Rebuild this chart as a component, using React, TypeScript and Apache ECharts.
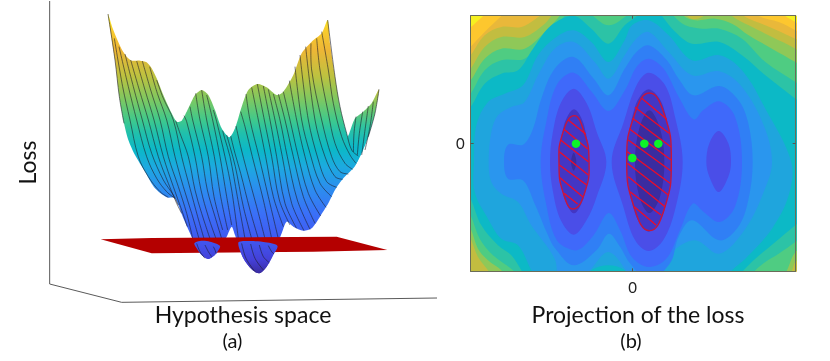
import React, { useEffect, useRef } from "react";
import * as echarts from "echarts";

type P = number[];

const FONT = "Lato, Carlito, 'Open Sans', sans-serif";
const tickLabels = ["0"];
const titles = { loss: "Loss", hypothesis: "Hypothesis space", projection: "Projection of the loss", a: "(a)", b: "(b)" };

const boxLines: P[][] = [[[149, 3], [149, 852], [365, 907], [1311, 894]]];
const surfaceColorStops: [number, string][] = [
  [42, "#f9f020"], [90, "#f8cc2c"], [150, "#eeb636"], [230, "#bcc240"], [300, "#7cc862"], [360, "#3fc98c"], [400, "#20c0ac"],
  [450, "#0cb8c8"], [500, "#1caae0"], [560, "#2a90ee"], [640, "#3a70f8"], [720, "#4058f0"], [780, "#4440d8"], [820, "#3a2ca0"],
];
const flapStops: [number, string][] = [[268, "#c8c03c"], [320, "#78c866"], [380, "#30c4a0"], [440, "#0cb8c8"], [500, "#14b0d8"]];
const flapOutline: P[] = [[1040, 420], [1048, 400], [1065, 355], [1090, 335], [1115, 310], [1137, 268], [1125, 340], [1105, 410], [1085, 460], [1065, 495], [1045, 480]];
const flapLines: P[][] = [
  [[1068, 350], [1062, 400], [1060, 460]], [[1088, 335], [1078, 400], [1072, 465]],
  [[1105, 318], [1095, 390], [1085, 465]], [[1120, 305], [1110, 380], [1095, 450]], [[1137, 268], [1125, 340], [1105, 410]],
];
const surfaceOutline: P[] = [
  [324, 42], [338, 85], [350, 115], [365, 148], [380, 170], [395, 182], [420, 182], [440, 187], [455, 205], [470, 235], [490, 285], [515, 340], [530, 365],
  [545, 362], [565, 325], [585, 285], [605, 270], [625, 285], [645, 330], [665, 385], [688, 412], [705, 385], [725, 320], [745, 270], [772, 252], [800, 262],
  [830, 285], [850, 275], [880, 225], [905, 160], [935, 125], [965, 100], [983, 60], [990, 130], [1005, 230], [1020, 320], [1040, 400], [1055, 450], [1075, 468],
  [1072, 485], [1060, 505], [1030, 535], [1005, 570], [985, 610], [960, 650], [935, 685], [910, 692], [880, 680], [860, 665], [845, 700], [825, 750], [800, 800],
  [778, 820], [755, 808], [730, 775], [705, 705], [695, 680], [680, 710], [650, 760], [625, 777], [600, 760], [577, 715], [550, 655], [525, 595], [500, 592],
  [465, 565], [435, 515], [405, 465], [385, 420], [372, 370], [358, 290], [345, 180],
];
const meshLines: P[][] = [
  [[324, 42], [345, 180], [358, 290], [372, 370]],
  [[343, 115], [368, 260], [390, 360], [415, 470], [445, 530], [480, 575], [505, 592]],
  [[357, 140], [385, 260], [410, 360], [440, 470], [470, 535], [500, 575], [525, 595]],
  [[375, 162], [400, 260], [427, 360], [455, 460], [490, 540], [520, 585], [535, 615]],
  [[392, 180], [418, 270], [445, 360], [475, 470], [505, 550], [530, 610], [545, 640]],
  [[410, 183], [435, 270], [462, 360], [490, 470], [520, 560], [545, 630], [562, 680]],
  [[427, 183], [452, 270], [480, 360], [505, 470], [535, 560], [560, 640], [578, 715]],
  [[449, 200], [472, 280], [500, 360], [525, 470], [550, 560], [575, 640], [597, 716]],
  [[470, 240], [490, 295], [520, 360], [545, 470], [570, 565], [593, 650], [612, 716]],
  [[527, 362], [540, 400], [565, 470], [585, 570], [605, 640], [630, 716]],
  [[552, 347], [560, 365], [585, 470], [603, 570], [625, 650], [648, 716]],
  [[570, 320], [578, 360], [605, 470], [622, 570], [645, 650], [665, 716]],
  [[587, 280], [600, 360], [625, 470], [642, 590], [668, 690]],
  [[605, 270], [620, 360], [643, 470], [662, 590], [683, 690]],
  [[620, 285], [638, 360], [660, 470], [680, 590], [695, 675]],
  [[640, 330], [650, 365], [675, 470], [695, 570], [715, 716]],
  [[668, 392], [674, 415], [690, 470], [712, 590], [735, 716]],
  [[680, 405], [690, 440], [706, 500], [730, 620], [755, 716]],
  [[692, 408], [705, 460], [722, 520], [750, 630], [775, 716]],
  [[708, 378], [722, 440], [740, 510], [770, 620], [795, 716]],
  [[722, 335], [735, 380], [757, 470], [790, 600], [815, 716]],
  [[738, 282], [750, 360], [777, 470], [805, 590], [835, 716]],
  [[755, 262], [775, 360], [797, 470], [820, 590], [850, 680]],
  [[772, 252], [793, 360], [815, 470], [838, 600], [870, 675]],
  [[790, 258], [810, 360], [830, 470], [855, 610], [890, 685]],
  [[805, 268], [825, 360], [847, 470], [875, 610], [912, 692]],
  [[820, 282], [840, 360], [862, 470], [892, 600], [930, 688]],
  [[835, 282], [855, 360], [880, 470], [910, 590], [945, 670]],
  [[850, 275], [870, 360], [895, 470], [925, 580], [962, 648]],
  [[868, 242], [890, 360], [915, 470], [945, 570], [978, 622]],
  [[885, 200], [905, 360], [930, 460], [960, 550], [995, 590]],
  [[900, 165], [925, 360], [955, 480], [980, 545], [1010, 562]],
  [[917, 140], [945, 360], [975, 470], [1005, 530], [1028, 538]],
  [[933, 130], [935, 210], [965, 360], [995, 470], [1020, 515], [1045, 522]],
  [[950, 115], [960, 210], [985, 340], [1005, 430], [1035, 490], [1058, 508]],
  [[965, 95], [985, 210], [1000, 310], [1025, 410], [1050, 465], [1068, 490]],
  [[983, 60], [1005, 230], [1020, 320], [1040, 400], [1055, 450], [1075, 468]],
];
const planeOutline: P[] = [[302, 718], [455, 714], [1010, 710], [1162, 750], [940, 755], [455, 760]];
const basinOutlines: P[][] = [
  [[583, 730], [600, 723], [630, 725], [660, 738], [650, 758], [625, 777], [605, 765], [590, 745]],
  [[715, 728], [740, 723], [790, 726], [832, 737], [820, 765], [800, 800], [778, 820], [755, 808], [730, 775]],
];
const basinLines: P[][] = [
  [[590, 730], [600, 755], [615, 775]], [[615, 735], [625, 755], [635, 770]], [[640, 740], [645, 750], [648, 760]],
  [[725, 730], [738, 775], [765, 815]], [[752, 732], [765, 775], [790, 810]], [[778, 735], [790, 770], [808, 788]], [[805, 737], [815, 755], [822, 762]],
];

// ---------- Panel (b): contour outlines, 3x pixel positions ----------
const contourColors = ["#fdc72e", "#e9b83a", "#c2bd40", "#8fc858", "#4fcc82", "#2cc3a6", "#0cb9c6", "#1fa5dd", "#2a96ee", "#307ff5", "#3f69fa", "#4a4ee8", "#4a4ee8", "#4a4ee8", "#4336c4", "#4336c4", "#3a2ca0", "#3a2ca0"];
const contourBackground = "#f6f020";
const contourOutlines: P[][] = [
  [[70, 105], [92, 82], [130, 47], [150, 25], [1020, 25], [1036, 48], [1066, 66], [1085, 85], [1100, 900], [60, 900]],
  [[70, 165], [92, 140], [134, 96], [184, 48], [210, 25], [940, 25], [956, 48], [1016, 66], [1066, 91], [1095, 110], [1100, 900], [60, 900]],
  [[70, 190], [92, 166], [134, 106], [184, 81], [244, 81], [299, 48], [325, 25], [895, 25], [911, 48], [976, 76], [1066, 116], [1095, 130], [1100, 900], [60, 900]],
  [[70, 225], [92, 206], [134, 141], [184, 111], [254, 111], [309, 76], [334, 48], [350, 25], [725, 25], [741, 48], [761, 58], [791, 48], [810, 25], [860, 25], [876, 48], [926, 76], [996, 111], [1066, 146], [1095, 170], [1095, 770], [1066, 786], [1056, 811], [1040, 840], [160, 840], [144, 811], [114, 771], [92, 716], [70, 680]],
  [[70, 260], [92, 241], [134, 176], [184, 146], [254, 146], [324, 86], [359, 48], [375, 25], [715, 25], [731, 48], [766, 61], [826, 56], [876, 71], [926, 106], [996, 146], [1066, 186], [1095, 205], [1095, 740], [1066, 756], [1041, 811], [1025, 840], [200, 840], [184, 811], [144, 781], [114, 746], [92, 686], [70, 650]],
  [[70, 300], [92, 281], [134, 211], [184, 181], [254, 176], [304, 121], [374, 48], [395, 25], [440, 25], [459, 48], [506, 76], [559, 48], [580, 25], [680, 25], [701, 48], [736, 76], [786, 86], [838, 86], [906, 116], [976, 186], [1066, 246], [1095, 270], [1095, 700], [1066, 726], [1016, 761], [976, 786], [946, 811], [925, 840], [240, 840], [219, 811], [159, 766], [119, 716], [92, 646], [70, 610]],
  [[70, 340], [92, 321], [134, 251], [184, 221], [234, 211], [279, 146], [334, 76], [401, 48], [454, 86], [506, 131], [554, 76], [591, 48], [610, 25], [650, 25], [666, 48], [706, 96], [756, 131], [838, 126], [906, 166], [976, 226], [1066, 296], [1095, 320], [1095, 650], [1066, 676], [1006, 726], [946, 776], [911, 811], [890, 840], [260, 840], [244, 811], [214, 766], [174, 736], [124, 676], [92, 596], [70, 560]],
  [[102, 486], [109, 376], [144, 306], [194, 281], [249, 256], [294, 166], [349, 111], [401, 91], [454, 126], [506, 186], [554, 121], [576, 76], [626, 61], [686, 106], [756, 181], [838, 166], [906, 211], [976, 326], [1054, 486], [1046, 586], [996, 686], [916, 776], [876, 811], [850, 850], [575, 850], [554, 811], [506, 796], [454, 811], [430, 850], [295, 850], [274, 811], [234, 736], [184, 716], [144, 656], [104, 576]],
  [[146, 486], [154, 396], [174, 346], [214, 321], [254, 306], [294, 226], [344, 146], [401, 126], [464, 186], [506, 236], [554, 166], [590, 115], [626, 96], [686, 156], [756, 226], [838, 214], [906, 261], [971, 376], [996, 486], [971, 576], [916, 686], [838, 761], [766, 721], [696, 756], [656, 821], [640, 860], [580, 860], [564, 821], [506, 756], [454, 806], [420, 850], [360, 850], [344, 776], [274, 676], [234, 606], [184, 581], [154, 546]],
  [[192, 486], [204, 434], [249, 434], [279, 386], [304, 296], [345, 205], [401, 171], [460, 235], [506, 286], [555, 205], [590, 155], [626, 136], [680, 180], [716, 236], [761, 286], [838, 258], [895, 300], [925, 370], [938, 486], [925, 600], [895, 680], [838, 721], [756, 661], [716, 710], [690, 790], [626, 840], [570, 790], [540, 740], [506, 701], [470, 750], [401, 796], [345, 745], [324, 706], [284, 611], [249, 541], [204, 536]],
  [[302, 486], [318, 370], [350, 255], [401, 218], [455, 275], [506, 333], [555, 270], [590, 200], [626, 176], [670, 205], [716, 290], [761, 358], [790, 330], [838, 304], [885, 350], [906, 486], [885, 620], [838, 666], [790, 635], [758, 611], [720, 690], [680, 775], [626, 801], [575, 770], [540, 690], [506, 639], [465, 700], [430, 740], [401, 751], [350, 720], [318, 610]],
  [[401, 266], [440, 310], [470, 395], [499, 486], [470, 590], [440, 660], [401, 704], [362, 660], [338, 570], [330, 486], [338, 400], [362, 310]],
  [[626, 218], [675, 255], [705, 350], [728, 486], [705, 630], [670, 720], [626, 753], [585, 720], [550, 620], [515, 486], [550, 370], [590, 255]],
  [[836, 393], [865, 430], [873, 486], [865, 530], [836, 576], [808, 530], [799, 486], [808, 430]],
  [[402, 328], [432, 375], [447, 486], [432, 590], [402, 640], [372, 590], [357, 486], [372, 375]],
  [[626, 268], [670, 320], [695, 486], [670, 640], [626, 695], [585, 640], [560, 486], [585, 320]],
  [[628, 331], [660, 385], [673, 486], [660, 590], [628, 639], [598, 590], [585, 486], [598, 385]],
  [[401, 458], [409, 486], [401, 512], [393, 486]],
];
const contourBox: P[] = [[50, 0], [1110, 0], [1110, 900], [50, 900]];
const regionOutlines: P[][] = [
  [[402, 347], [432, 395], [447, 480], [435, 575], [400, 627], [370, 580], [357, 490], [368, 400]],
  [[628, 279], [672, 340], [694, 480], [672, 630], [628, 692], [585, 630], [560, 480], [585, 340]],
];
const hatchLines: P[][] = [
  [[385, 360], [437, 402]], [[372, 388], [443, 447]], [[362, 420], [445, 485]], [[358, 455], [445, 525]], [[358, 495], [440, 555]], [[360, 533], [428, 590]], [[372, 580], [413, 612]],
  [[605, 295], [680, 358]], [[585, 322], [687, 400]], [[578, 355], [692, 440]], [[570, 388], [693, 480]], [[565, 420], [692, 512]], [[562, 455], [690, 550]], [[562, 490], [685, 585]], [[565, 530], [675, 620]], [[570, 575], [663, 645]], [[583, 620], [648, 675]],
];
const minimaPoints: P[] = [[408, 431], [613, 431], [655, 431], [577, 474]];

const toValue = (p: P): P => [p[0] - 578, 430 - p[1]];

function gradient(api: any, stops: [number, string][]) {
  const a = api.coord([0, stops[0][0]])[1];
  const b = api.coord([0, stops[stops.length - 1][0]])[1];
  return new echarts.graphic.LinearGradient(0, a, 0, b, stops.map(([y, color]) => ({ offset: (api.coord([0, y])[1] - a) / (b - a), color })), true);
}

function shapes(name: string, panel: number, items: P[][], z: number, make: (pts: number[][], i: number, api: any) => any, clip = false) {
  return {
    type: "custom", name, xAxisIndex: panel === 0 ? 0 : 1, yAxisIndex: panel === 0 ? 0 : 1, z, clip, silent: true,
    encode: { x: 0, y: 1 }, data: items.map((_, i) => [0, 0, i]),
    renderItem: (params: any, api: any) => {
      const i = params.dataIndex;
      const pts = items[i].map((p) => api.coord(panel === 0 ? p : toValue(p)));
      return make(pts, i, api);
    },
  };
}

const meshStyle = (w = 0.7) => ({ fill: "none", stroke: "#1c1c28", lineWidth: w, opacity: 0.85 });
const line = (smooth: number, w?: number) => (pts: number[][]) => ({ type: "polyline", shape: { points: pts, smooth }, style: meshStyle(w) });

export default function App() {
  const ref = useRef<HTMLDivElement>(null);
  useEffect(() => {
    const chart = echarts.init(ref.current!, undefined, { renderer: "svg" });
    const frameAxis = { show: true, axisLine: { show: true, onZero: false, lineStyle: { color: "#6a6c58", width: 1 } }, axisTick: { show: true, inside: true, length: 3, customValues: [0], lineStyle: { color: "#555" } }, splitLine: { show: false }, z: 20 };
    const labels = (margin: number) => ({ show: true, customValues: [0], margin, color: "#222", fontFamily: FONT, fontSize: 15, formatter: () => tickLabels[0] });
    const xb = { min: -486, max: 489, type: "value" as const, gridIndex: 1 };
    const yb = { min: -384, max: 383, type: "value" as const, gridIndex: 1 };
    const text = (s: string, x: number, y: number, size: number, rotation = 0) => ({
      type: "text", x, y, rotation, z: 30, style: { text: s, font: `${size}px ${FONT}`, fill: "#111", textAlign: "center", textVerticalAlign: "middle" },
    });
    chart.setOption({
      animation: false,
      backgroundColor: "#fff",
      grid: [
        { left: 0, top: 0, width: 415, height: 361 },
        { left: 470.67, top: 15.67, width: 325, height: 255.67 },
      ],
      xAxis: [
        { type: "value", gridIndex: 0, min: 0, max: 1245, show: false },
        { ...frameAxis, ...xb, position: "bottom", axisLabel: labels(8) },
        { ...frameAxis, ...xb, position: "top", axisLabel: { show: false } },
      ],
      yAxis: [
        { type: "value", gridIndex: 0, min: 0, max: 1083, inverse: true, show: false },
        { ...frameAxis, ...yb, position: "left", axisLabel: labels(6) },
        { ...frameAxis, ...yb, position: "right", axisLabel: { show: false } },
      ],
      graphic: [
        text(titles.loss, 27, 162.5, 23, Math.PI / 2),
        text(titles.hypothesis, 243, 314, 23),
        text(titles.a, 232.5, 340, 20),
        text(titles.projection, 638, 314, 23),
        text(titles.b, 631, 340, 20),
      ],
      series: [
        shapes("box", 0, boxLines, 2, (pts) => ({ type: "polyline", shape: { points: pts }, style: { fill: "none", stroke: "#5a5a5a", lineWidth: 1 } })),
        shapes("flap", 0, [flapOutline], 3, (pts, _i, api) => ({ type: "polygon", shape: { points: pts, smooth: 0.2 }, style: { fill: gradient(api, flapStops) } })),
        shapes("flap lines", 0, flapLines, 3.5, line(0.3)),
        shapes("surface", 0, [surfaceOutline], 4, (pts, _i, api) => ({ type: "polygon", shape: { points: pts, smooth: 0.25 }, style: { fill: gradient(api, surfaceColorStops) } })),
        shapes("mesh", 0, meshLines, 5, line(0.35)),
        shapes("plane", 0, [planeOutline], 6, (pts) => ({ type: "polygon", shape: { points: pts }, style: { fill: "#b40000" } })),
        shapes("basins", 0, basinOutlines, 7, (pts, _i, api) => ({ type: "polygon", shape: { points: pts, smooth: 0.3 }, style: { fill: gradient(api, surfaceColorStops) } })),
        shapes("basin lines", 0, basinLines, 8, line(0.35)),
        shapes("contour base", 1, [contourBox], 2, (pts) => ({ type: "polygon", shape: { points: pts }, style: { fill: contourBackground } }), true),
        shapes("contour", 1, contourOutlines, 3, (pts, i) => ({ type: "polygon", shape: { points: pts, smooth: 0.35 }, style: { fill: contourColors[i] } }), true),
        shapes("region", 1, regionOutlines, 4, (pts) => ({ type: "polygon", shape: { points: pts, smooth: 0.5 }, style: { fill: "none", stroke: "#c4163f", lineWidth: 1.4 } }), true),
        shapes("hatch", 1, hatchLines, 5, (pts) => ({ type: "line", shape: { x1: pts[0][0], y1: pts[0][1], x2: pts[1][0], y2: pts[1][1] }, style: { stroke: "#ee0c28", lineWidth: 1.3 } }), true),
        { type: "scatter", name: "minima", xAxisIndex: 1, yAxisIndex: 1, z: 6, symbolSize: 8.5, silent: true, itemStyle: { color: "#0cf428", opacity: 1 }, data: minimaPoints.map(toValue) },
      ],
    });
    return () => chart.dispose();
  }, []);
  return <div ref={ref} style={{ position: "absolute", left: 0, top: 0, width: 830, height: 361, filter: "blur(0.35px)" }} />;
}
